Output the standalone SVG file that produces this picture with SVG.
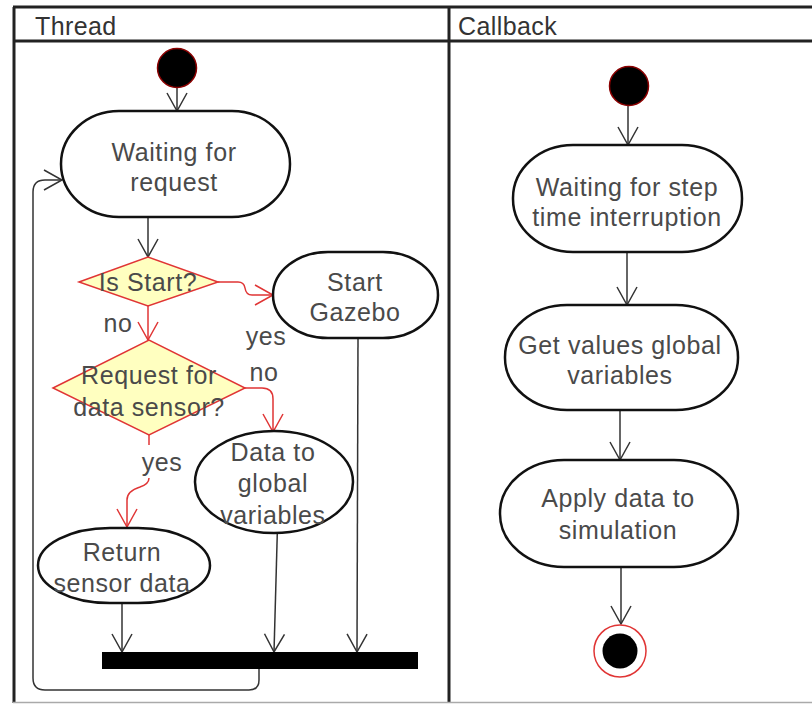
<svg xmlns="http://www.w3.org/2000/svg" width="812" height="704" viewBox="0 0 812 704">
  <style>
    .lane { fill: none; stroke: #222; stroke-width: 3; }
    .node { fill: #fff; stroke: #111; stroke-width: 2.5; }
    .dec { fill: #ffffc0; stroke: #e03535; stroke-width: 1.5; }
    .txt { font-family: "Liberation Sans", Arial, sans-serif; font-size: 25px; letter-spacing: 0.6px; fill: #4a4a4a; text-anchor: middle; }
    .head { font-family: "Liberation Sans", Arial, sans-serif; font-size: 25px; letter-spacing: 0.4px; fill: #333; }
    .flow { fill: none; stroke: #333; stroke-width: 1.5; }
    .guard { fill: none; stroke: #e03535; stroke-width: 1.5; }
  </style>
  <defs>
    <marker id="open" markerUnits="userSpaceOnUse" markerWidth="24" markerHeight="24" refX="20" refY="12" orient="auto" viewBox="0 0 24 24">
      <path d="M2,2 L20,12 L2,22" fill="none" stroke="#333" stroke-width="1.5"/>
    </marker>
    <marker id="openRed" markerUnits="userSpaceOnUse" markerWidth="24" markerHeight="24" refX="20" refY="12" orient="auto" viewBox="0 0 24 24">
      <path d="M2,2 L20,12 L2,22" fill="none" stroke="#e03535" stroke-width="1.5"/>
    </marker>
  </defs>

  <rect width="812" height="704" fill="#fff"/>

  <!-- swimlanes -->
  <g id="lanes">
    <line class="lane" x1="13" y1="7" x2="812" y2="7"/>
    <line class="lane" x1="13" y1="41" x2="812" y2="41"/>
    <line class="lane" x1="14" y1="7" x2="14" y2="703"/>
    <line class="lane" x1="449" y1="7" x2="449" y2="703"/>
    <line x1="13" y1="702.5" x2="812" y2="702.5" stroke="#aaa" stroke-width="1.5"/>
    <text class="head" x="35" y="35">Thread</text>
    <text class="head" x="458" y="35">Callback</text>
  </g>

  <!-- connectors -->
  <g id="connectors">
    <line class="flow" x1="177" y1="88" x2="177" y2="111" marker-end="url(#open)"/>
    <line class="flow" x1="148" y1="217" x2="148" y2="257" marker-end="url(#open)"/>
    <path class="guard" d="M218,282 L238,282 Q244,282 245,288 Q246,295 252,295 L273,295" marker-end="url(#openRed)"/>
    <line class="guard" x1="148" y1="306" x2="148" y2="340" marker-end="url(#openRed)"/>
    <path class="guard" d="M245,388 L262,388 Q273,388 273,399 L273,432" marker-end="url(#openRed)"/>
    <line class="guard" x1="149" y1="435" x2="149" y2="445"/>
    <path class="guard" d="M149,478 Q149,484 140,487 Q127,491 127,500 L127,527" marker-end="url(#openRed)"/>
    <line class="flow" x1="122" y1="603" x2="122" y2="652" marker-end="url(#open)"/>
    <line class="flow" x1="278" y1="508" x2="274" y2="652" marker-end="url(#open)"/>
    <line class="flow" x1="358" y1="338" x2="357" y2="652" marker-end="url(#open)"/>
    <path class="flow" d="M259,669 L259,680 Q259,690 249,690 L45,690 Q33,690 33,678 L33,192 Q33,180 45,180 L62,180" marker-end="url(#open)"/>

    <line class="flow" x1="628" y1="106" x2="628" y2="145" marker-end="url(#open)"/>
    <line class="flow" x1="627" y1="252" x2="627" y2="305" marker-end="url(#open)"/>
    <line class="flow" x1="620" y1="410" x2="620" y2="460" marker-end="url(#open)"/>
    <line class="flow" x1="621" y1="567" x2="621" y2="624" marker-end="url(#open)"/>
  </g>

  <!-- Thread lane -->
  <g id="thread-start">
    <circle cx="177" cy="68" r="19.5" fill="#000" stroke="#8b0000" stroke-width="1.5"/>
  </g>
  <g id="waiting-request">
    <rect class="node" x="61" y="111" width="229" height="106" rx="58" ry="53"/>
    <text class="txt" x="174" y="161">Waiting for</text>
    <text class="txt" x="174" y="191">request</text>
  </g>
  <g id="is-start">
    <polygon class="dec" points="79,282 148,257 218,282 148,306"/>
    <text class="txt" x="148" y="291">Is Start?</text>
  </g>
  <g id="start-gazebo">
    <rect class="node" x="273" y="252" width="165" height="86" rx="55" ry="43"/>
    <text class="txt" x="355" y="291">Start</text>
    <text class="txt" x="355" y="321">Gazebo</text>
  </g>
  <g id="request-data">
    <polygon class="dec" points="53,388 149,340 245,388 149,435"/>
    <text class="txt" x="149" y="384">Request for</text>
    <text class="txt" x="149" y="416">data sensor?</text>
  </g>
  <g id="data-global">
    <ellipse class="node" cx="274" cy="482" rx="79" ry="51"/>
    <text class="txt" x="273" y="461">Data to</text>
    <text class="txt" x="273" y="492">global</text>
    <text class="txt" x="273" y="524">variables</text>
  </g>
  <g id="return-sensor">
    <rect class="node" x="38" y="528" width="172" height="75" rx="72" ry="37.5"/>
    <text class="txt" x="122" y="561">Return</text>
    <text class="txt" x="122" y="592">sensor data</text>
  </g>
  <g id="join-bar">
    <rect x="102" y="652" width="316" height="17" fill="#000"/>
  </g>
  <g id="guard-labels">
    <text class="txt" x="118" y="332">no</text>
    <text class="txt" x="266" y="345">yes</text>
    <text class="txt" x="264" y="381">no</text>
    <text class="txt" x="162" y="471">yes</text>
  </g>

  <!-- Callback lane -->
  <g id="callback-start">
    <circle cx="629" cy="86" r="19.5" fill="#000" stroke="#8b0000" stroke-width="1.5"/>
  </g>
  <g id="waiting-step">
    <rect class="node" x="513" y="145" width="229" height="107" rx="60" ry="53"/>
    <text class="txt" x="627" y="196">Waiting for step</text>
    <text class="txt" x="627" y="226">time interruption</text>
  </g>
  <g id="get-values">
    <rect class="node" x="505" y="305" width="233" height="105" rx="62" ry="52"/>
    <text class="txt" x="620" y="354">Get values global</text>
    <text class="txt" x="620" y="384">variables</text>
  </g>
  <g id="apply-data">
    <rect class="node" x="500" y="460" width="238" height="107" rx="64" ry="53"/>
    <text class="txt" x="618" y="507">Apply data to</text>
    <text class="txt" x="618" y="539">simulation</text>
  </g>
  <g id="callback-end">
    <circle cx="620" cy="651" r="26" fill="#fff" stroke="#e03535" stroke-width="1.5"/>
    <circle cx="620" cy="651" r="17.5" fill="#000"/>
  </g>
</svg>
